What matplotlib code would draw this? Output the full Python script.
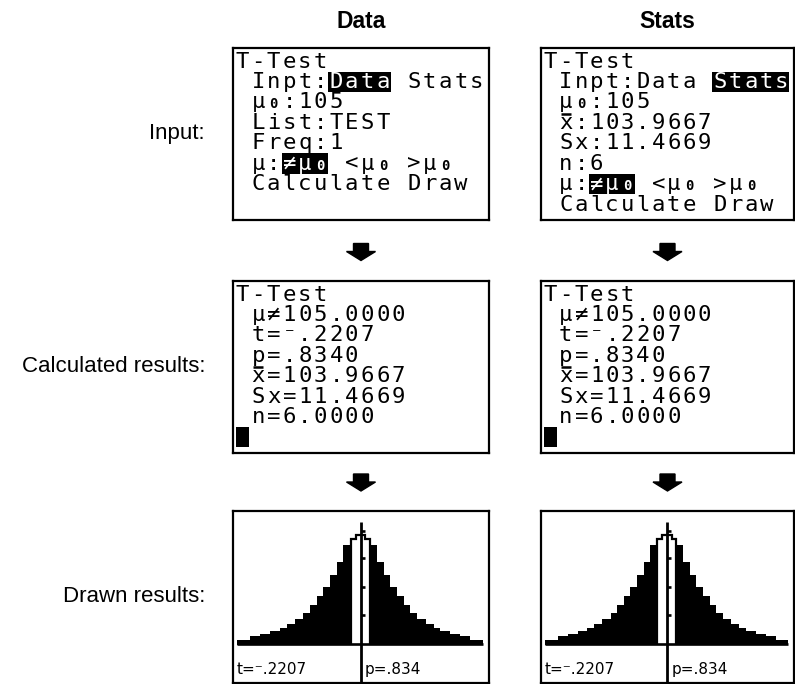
import matplotlib.pyplot as plt
from matplotlib.patches import Rectangle, FancyArrow

# values
column_titles = ["Data", "Stats"]
row_labels = ["Input:", "Calculated results:", "Drawn results:"]

mu0 = 105
list_name = "TEST"
freq = 1
xbar = 103.9667
sx = 11.4669
n_obs = 6
t_stat = -0.2207
p_value = 0.8340

# drawn t curve in calculator pixels (column edges, height above the x axis)
curve_left_cols = [1.4, 6.4, 10.1, 13.9, 17.6, 20.1, 23.2, 26.4, 28.9, 31.4, 33.9, 36.4, 38.9, 41.4, 44.2]
curve_left_heights = [2.1, 3.6, 4.4, 5.4, 6.4, 7.8, 9.7, 12.1, 15.2, 18.3, 21.9, 26.2, 31.1, 37.2]
curve_right_cols = [51.3, 54.0, 56.5, 59.0, 61.5, 64.0, 66.5, 69.0, 72.2, 75.3, 77.8, 81.5, 85.3, 89.0, 93.9]
curve_right_heights = [37.2, 31.1, 26.2, 21.9, 18.3, 15.2, 12.1, 9.7, 7.8, 6.4, 5.4, 4.4, 3.6, 2.1]
strip_cols = [44.2, 46.0, 49.6, 51.3]
strip_heights = [39.6, 40.9, 39.6]
axis_row = 50.0
yaxis_col = 47.9
yaxis_tick_rows = [7.4, 17.6, 28.3, 38.6]

FIG_W, FIG_H = 795, 684
BOX_LEFT = [233, 541]
BOX_WIDTH = [256, 253]
BOX_TOP = [48, 281, 511]
BOX_HEIGHT = 172

CELL_X0, CELL_DX = 3.55, 5.85
ROW_Y0, ROW_DY = 7.3, 7.6
MONO = "DejaVu Sans Mono"
TI_SIZE = 16


def ti_num(v, fmt):
    s = fmt.format(abs(v))
    if s.startswith("0."):
        s = s[1:]
    return ("\u207b" if v < 0 else "") + s


def screen_axes(fig, col, row):
    left = BOX_LEFT[col]
    top = BOX_TOP[row]
    ax = fig.add_axes([left / FIG_W, 1 - (top + BOX_HEIGHT) / FIG_H,
                       BOX_WIDTH[col] / FIG_W, BOX_HEIGHT / FIG_H])
    ax.set_xlim(0, 96)
    ax.set_ylim(64, 0)
    ax.set_xticks([])
    ax.set_yticks([])
    for sp in ax.spines.values():
        sp.set_linewidth(1.6)
        sp.set_color("black")
    return ax


def draw_text_screen(ax, lines, highlights, cursor_row=None):
    inverse = set()
    for r, c0, c1 in highlights:
        base = ROW_Y0 + ROW_DY * r
        x0 = CELL_X0 + CELL_DX * c0 - 2.9
        ax.add_patch(Rectangle((x0, base - 6.1), CELL_DX * (c1 - c0) + 5.8, 7.5,
                               facecolor="black", edgecolor="none", zorder=1))
        for c in range(c0, c1 + 1):
            inverse.add((r, c))
    if cursor_row is not None:
        base = ROW_Y0 + ROW_DY * cursor_row
        ax.add_patch(Rectangle((1.2, base - 6.1), 4.8, 7.5,
                               facecolor="black", edgecolor="none", zorder=1))
    for r, line in enumerate(lines):
        base = ROW_Y0 + ROW_DY * r
        for c, ch in enumerate(line):
            if ch == " ":
                continue
            x = CELL_X0 + CELL_DX * c
            color = "white" if (r, c) in inverse else "black"
            kw = dict(ha="center", va="baseline", color=color,
                      family=[MONO, "DejaVu Sans"], zorder=2)
            if ch == "@":
                ax.text(x, base, "0", fontsize=TI_SIZE * 0.62, fontweight="bold", **kw)
            elif ch == "%":
                # x with its bar on top
                ax.text(x, base, "x", fontsize=TI_SIZE, **kw)
                ax.hlines(base - 5.6, x - 2.0, x + 2.0, color=color, linewidth=1.8, zorder=2)
            else:
                ax.text(x, base, ch, fontsize=TI_SIZE, **kw)


def draw_curve_screen(ax):
    left_tops = [axis_row - h for h in curve_left_heights]
    right_tops = [axis_row - h for h in curve_right_heights]
    ax.stairs(left_tops, curve_left_cols, baseline=axis_row, fill=True, color="black")
    ax.stairs(right_tops, curve_right_cols, baseline=axis_row, fill=True, color="black")
    strip_tops = [axis_row - h for h in strip_heights]
    ax.stairs(strip_tops, strip_cols, baseline=axis_row, fill=False, color="black", linewidth=1.6)
    ax.hlines(axis_row - 0.5, curve_left_cols[0], curve_right_cols[-1], color="black", linewidth=1.9)
    ax.vlines(yaxis_col, 4.0, 64, color="black", linewidth=2.0)
    ax.hlines(yaxis_tick_rows, yaxis_col, yaxis_col + 1.5, color="black", linewidth=1.9)
    ax.text(1.2, 60.5, "t=" + ti_num(t_stat, "{:.4f}"), fontsize=11,
            family=["DejaVu Sans", MONO], ha="left", va="baseline")
    ax.text(yaxis_col + 1.6, 60.5, "p=" + ti_num(p_value, "{:.3f}"), fontsize=11,
            family=["DejaVu Sans", MONO], ha="left", va="baseline")


input_data = ["T-Test",
              " Inpt:Data Stats",
              " \u03bc@:" + str(mu0),
              " List:" + list_name,
              " Freq:" + str(freq),
              " \u03bc:\u2260\u03bc@ <\u03bc@ >\u03bc@",
              " Calculate Draw"]
input_stats = ["T-Test",
               " Inpt:Data Stats",
               " \u03bc@:" + str(mu0),
               " %:" + str(xbar),
               " Sx:" + str(sx),
               " n:" + str(n_obs),
               " \u03bc:\u2260\u03bc@ <\u03bc@ >\u03bc@",
               " Calculate Draw"]
results = ["T-Test",
           " \u03bc\u2260" + "{:.4f}".format(mu0),
           " t=" + ti_num(t_stat, "{:.4f}"),
           " p=" + ti_num(p_value, "{:.4f}"),
           " %=" + "{:.4f}".format(xbar),
           " Sx=" + "{:.4f}".format(sx),
           " n=" + "{:.4f}".format(n_obs)]

fig = plt.figure(figsize=(FIG_W / 100, FIG_H / 100), dpi=100)
bg = fig.add_axes([0, 0, 1, 1])
bg.set_xlim(0, FIG_W)
bg.set_ylim(FIG_H, 0)
bg.axis("off")

for col, title in enumerate(column_titles):
    cx = BOX_LEFT[col] + BOX_WIDTH[col] / 2
    bg.text(cx, 28, title, fontsize=16.5, fontweight="bold", family="Liberation Sans",
            ha="center", va="baseline")
    for top in [243.5, 474.0]:
        bg.add_patch(FancyArrow(cx, top, 0, 17, width=15, head_width=29, head_length=9,
                                length_includes_head=True, color="black"))

for row, label in enumerate(row_labels):
    cy = BOX_TOP[row] + BOX_HEIGHT / 2
    bg.text(205, cy, label, fontsize=16, family="Liberation Sans", ha="right", va="center")

ax = screen_axes(fig, 0, 0)
draw_text_screen(ax, input_data, [(1, 6, 9), (5, 3, 5)])
ax = screen_axes(fig, 1, 0)
draw_text_screen(ax, input_stats, [(1, 11, 15), (6, 3, 5)])
for col in range(2):
    ax = screen_axes(fig, col, 1)
    draw_text_screen(ax, results, [], cursor_row=7)
    ax = screen_axes(fig, col, 2)
    draw_curve_screen(ax)

fig.savefig("out.png", dpi=100)
